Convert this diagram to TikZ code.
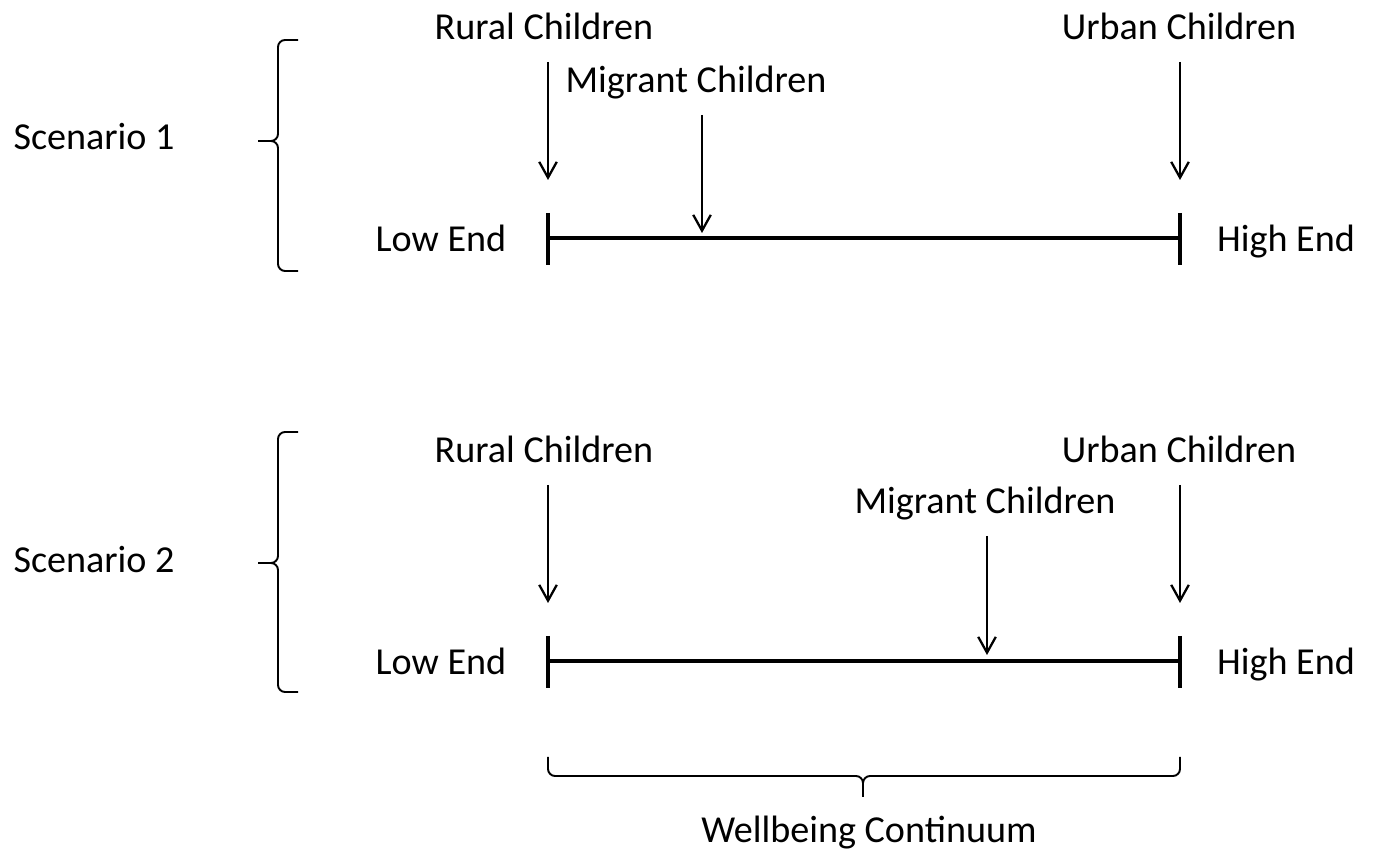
\documentclass[tikz,border=0pt]{standalone}
\usepackage{fontspec}
\setmainfont{Carlito}
\usepackage{tikz}
\usetikzlibrary{arrows.meta,positioning}
\tikzset{
  every node/.append style={font=\fontsize{21.7}{26}\selectfont},
}

\begin{document}
\begin{tikzpicture}[
  x=0.02cm, y=-0.02cm,
  >={Straight Barb[length=9pt,width=10pt]},
  tag/.style={inner sep=0pt, anchor=base},
  scaleline/.style={line width=2.3pt},
  pointer/.style={->, line width=1.3pt, shorten <=12.5pt},
  bracket/.style={line width=1.1pt, rounded corners=4pt}
]
\useasboundingbox (0,0) rectangle (1377,854);

% Scenario 1
\node[tag] (sc1) at (94,150) {Scenario 1};
\draw[bracket] (298,40) -- (278,40) -- (278,141) -- (258,141)
  (258,141) -- (278,141) -- (278,271) -- (298,271);

\node[tag] (low1) at (441,252) {Low End};
\node[tag] (high1) at (1286,252) {High End};
\coordinate (lo1) at (548,238);
\coordinate (hi1) at (1180,238);
\draw[scaleline] (lo1) -- (hi1);
\foreach \p in {lo1,hi1}
  \draw[scaleline] (\p) ++(0,-25) -- ++(0,52);

\node[tag] (rural1) at (544,40) {Rural Children};
\node[tag] (urban1) at (1179,40) {Urban Children};
\node[tag] (migr1) at (696,93) {Migrant Children};
\coordinate (rp1) at (548,180);
\coordinate (up1) at (1180,180);
\coordinate (mp1) at (702,233);
\draw[pointer] (rural1.base -| rp1) -- (rp1);
\draw[pointer] (urban1.base -| up1) -- (up1);
\draw[pointer] (migr1.base -| mp1) -- (mp1);

% Scenario 2
\node[tag] (sc2) at (94,573) {Scenario 2};
\draw[bracket] (298,432) -- (278,432) -- (278,563) -- (258,563)
  (258,563) -- (278,563) -- (278,692) -- (298,692);

\node[tag] (low2) at (441,675) {Low End};
\node[tag] (high2) at (1286,675) {High End};
\coordinate (lo2) at (548,661);
\coordinate (hi2) at (1180,661);
\draw[scaleline] (lo2) -- (hi2);
\foreach \p in {lo2,hi2}
  \draw[scaleline] (\p) ++(0,-25) -- ++(0,52);

\node[tag] (rural2) at (544,463) {Rural Children};
\node[tag] (urban2) at (1179,463) {Urban Children};
\node[tag] (migr2) at (985,514) {Migrant Children};
\coordinate (rp2) at (548,603);
\coordinate (up2) at (1180,603);
\coordinate (mp2) at (987,655);
\draw[pointer] (rural2.base -| rp2) -- (rp2);
\draw[pointer] (urban2.base -| up2) -- (up2);
\draw[pointer] (migr2.base -| mp2) -- (mp2);

% Continuum brace
\draw[bracket] (548,757) -- (548,776) -- (863,776) -- (863,797)
  (1180,757) -- (1180,776) -- (863,776) -- (863,797);
\node[tag] (wc) at (869,843) {Wellbeing Continuum};

\end{tikzpicture}
\end{document}
